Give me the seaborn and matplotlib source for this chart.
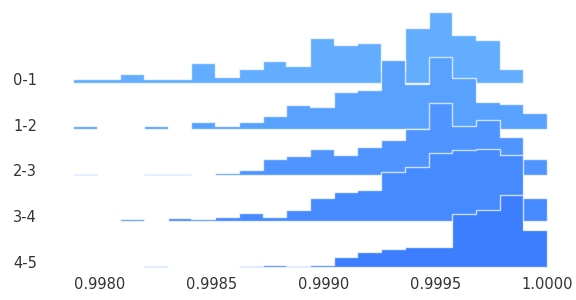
import numpy as np
import pandas as pd
import matplotlib
matplotlib.use("Agg")
import matplotlib.pyplot as plt
import seaborn as sns

# ridge rows, top to bottom
groups = ["0-1", "1-2", "2-3", "3-4", "4-5"]

# 20 equal bins between these two values
bin_lo = 0.99788
bin_hi = 1.0
n_bins = 20

# bar heights per row
h_01 = [4, 4, 9, 4, 4, 20, 6.5, 14, 22, 17, 45.6, 38, 40, 12, 55.6, 71.6, 48, 43, 14, 0]
h_12 = [3, 0, 0, 3, 0, 7.3, 3, 7.3, 13.6, 24.3, 22.6, 37, 39.3, 69.3, 45.6, 72.6, 51.3, 27, 25, 16]
h_23 = [1.4, 0, 0, 1.4, 1.4, 0, 1.7, 5.4, 15.7, 19.5, 26.3, 19.7, 28, 35, 46.3, 71.7, 49, 54.7, 38.3, 16]
h_34 = [0, 0, 2, 0, 3, 1.7, 4.4, 7.7, 4.4, 10.7, 23, 29, 30.7, 49.3, 54, 67.7, 71, 71.7, 66.3, 22.7]
h_45 = [0, 0, 0, 1.4, 0, 0, 0, 1.4, 2.3, 1.4, 1.6, 10, 15.3, 18.3, 19.6, 19.6, 53.3, 56.6, 72, 36.6]

xticks = [0.998, 0.9985, 0.999, 0.9995, 1.0]

edges = np.linspace(bin_lo, bin_hi, n_bins + 1)
centers = (edges[:-1] + edges[1:]) / 2

rows = []
for name, h in zip(groups, [h_01, h_12, h_23, h_34, h_45]):
    rows.append(pd.DataFrame({"group": name, "center": centers, "height": h}))
df = pd.concat(rows, ignore_index=True)

sns.set_theme(style="white", rc={"axes.facecolor": (0, 0, 0, 0)})
pal = sns.blend_palette(["#63adff", "#3d7eff"], len(groups))

g = sns.FacetGrid(df, row="group", hue="group", palette=pal,
                  height=0.6, aspect=9.6, sharey=True)
g.map_dataframe(sns.histplot, x="center", weights="height", bins=edges.tolist(),
                element="step", fill=True, alpha=1,
                edgecolor=(1, 1, 1, 0.7), linewidth=1.0)
g.set_titles("")
g.set(yticks=[], ylabel="", xlabel="", xticks=xticks)
g.despine(bottom=True, left=True)

fig = g.figure
fig.set_size_inches(5.76, 3.0)

# baselines in pixels from the top
base_px = [83.3, 129.3, 175, 221, 267]
for ax, name, b in zip(g.axes.flat, groups, base_px):
    ax.set_position([60 / 576, (300 - b) / 300, 500 / 576, 80 / 300])
    ax.set_ylim(0, 80)
    ax.set_xlim(0.997822, 1.000058)
    ax.set_ylabel("")
    fig.text(13 / 576, (300 - b + 3) / 300, name, ha="left", va="center",
             fontsize=10.5, color=".2")

last = g.axes.flat[-1]
last.xaxis.set_major_formatter(matplotlib.ticker.StrMethodFormatter("{x:.4f}"))
last.tick_params(axis="x", length=0, pad=7, labelsize=10.5, labelcolor=".2")

fig.savefig("out.png", dpi=100)
